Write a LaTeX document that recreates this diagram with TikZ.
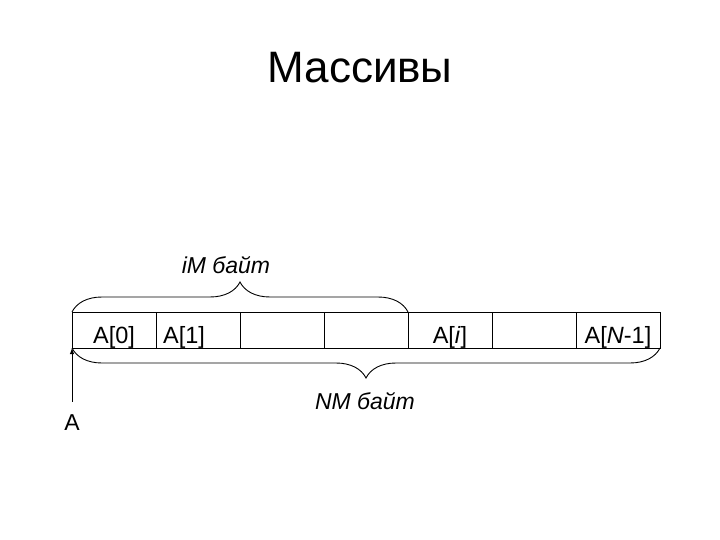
\documentclass[tikz,border=0pt]{standalone}
\usepackage{fontspec}
\setmainfont{Liberation Sans}
\usetikzlibrary{decorations.pathreplacing,arrows.meta}
\tikzset{
    cell/.style={draw, line width=0.9pt, minimum width=84, minimum height=36, inner sep=0pt, outer sep=0pt},
    celltext/.style={anchor=base, inner sep=0pt, font=\fontsize{23.5}{28}\selectfont},
    bytes/.style={anchor=base, inner sep=0pt, font=\fontsize{23}{27}\selectfont\itshape},
    bracket/.style={draw, line width=0.9pt, decorate, decoration={brace, amplitude=30}},
}
\begin{document}
\begin{tikzpicture}[x=1pt,y=-1pt]
    \useasboundingbox (0,0) rectangle (720,540);

    \node[anchor=base, font=\fontsize{44}{50}\selectfont] (title) at (360,83) {Массивы};

    \foreach \k in {0,...,6}
        \node[cell] (c\k) at ({114+84*\k},330) {};

    \node[celltext] (t0) at ([yshift=5pt]c0.south) {A[0]};
    \node[celltext, anchor=base west] (t1) at ([xshift=7pt,yshift=5pt]c1.south west) {A[1]};
    \node[celltext] (ti) at ([yshift=5pt]c4.south) {A[\textit{i}]};
    \node[celltext] (tn) at ([yshift=5pt]c6.south) {A[\textit{N}-1]};

    \draw[bracket] (c0.north west) -- (c3.north east);
    \draw[bracket] (c6.south east) -- (c0.south west);

    \node[bytes] (im) at (226,273) {iM байт};
    \node[bytes] (nm) at (365,409) {NM байт};

    \node[anchor=base, inner sep=0pt, font=\fontsize{23}{27}\selectfont] (a) at (72,430) {A};
    \draw[line width=0.9pt, -{Latex[length=6pt,width=4.5pt]}, shorten <=12pt] (a.north) -- (c0.south west);
\end{tikzpicture}
\end{document}
